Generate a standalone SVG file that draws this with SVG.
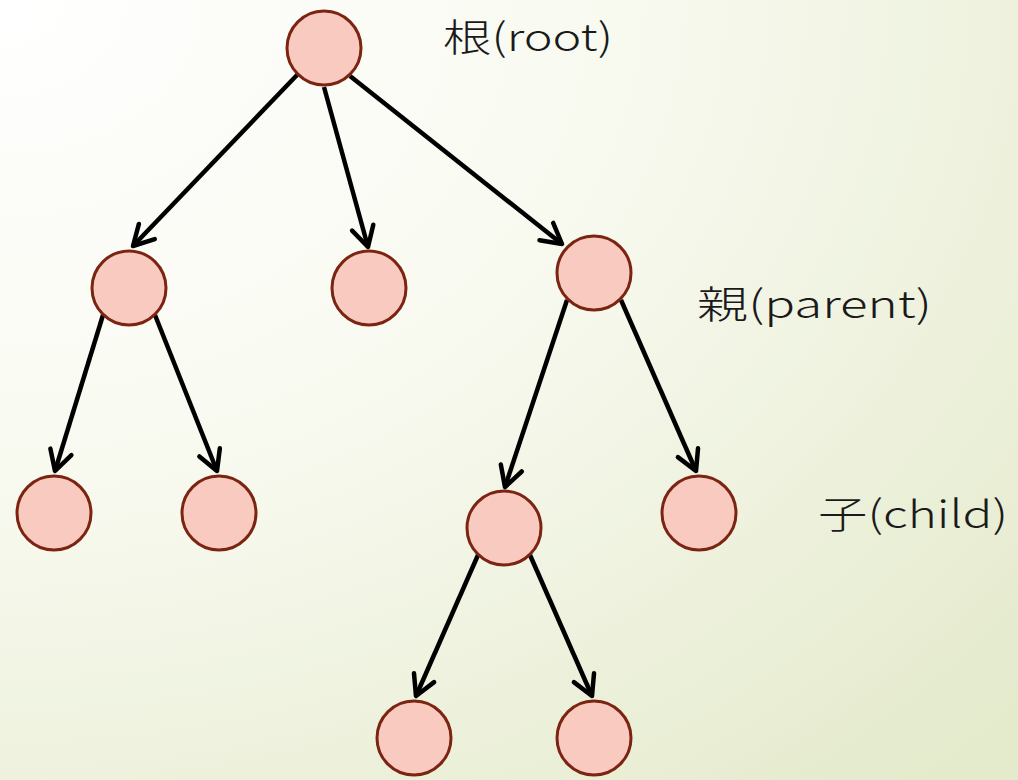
<svg xmlns="http://www.w3.org/2000/svg" width="1018" height="780" viewBox="0 0 1018 780">
<defs>
<radialGradient id="bg" cx="0" cy="0" r="1.35" gradientUnits="objectBoundingBox">
<stop offset="0" stop-color="#ffffff"/>
<stop offset="0.45" stop-color="#f8faf0"/>
<stop offset="1" stop-color="#e4eacc"/>
</radialGradient>
<marker id="ah" markerUnits="userSpaceOnUse" markerWidth="30" markerHeight="30" viewBox="-26 -15 30 30" refX="0" refY="0" orient="auto">
<polyline points="-20,-11 0,0 -20,11" fill="none" stroke="#000" stroke-width="4.5" stroke-linecap="round" stroke-linejoin="round"/>
</marker>
</defs>
<style>
.n{fill:#f9cbc0;stroke:#7b2412;stroke-width:3}
.e{stroke:#000;stroke-width:4.5;fill:none;marker-end:url(#ah)}
.t{font-family:"Noto Sans CJK JP","Noto Sans",sans-serif;font-size:38px;font-weight:300;fill:#1a1a1a}
</style>
<rect width="1018" height="780" fill="url(#bg)"/>
<g id="connectors">
<line class="e" x1="298" y1="74" x2="133" y2="246"/>
<line class="e" x1="324" y1="87" x2="368" y2="247"/>
<line class="e" x1="350" y1="76" x2="562" y2="244"/>
<line class="e" x1="103" y1="315" x2="55" y2="471"/>
<line class="e" x1="155" y1="315" x2="217" y2="471"/>
<line class="e" x1="567" y1="300" x2="505" y2="487"/>
<line class="e" x1="621" y1="300" x2="696" y2="471"/>
<line class="e" x1="478" y1="555" x2="416" y2="696"/>
<line class="e" x1="530" y1="555" x2="592" y2="696"/>
</g>
<g id="root"><circle class="n" cx="324" cy="48" r="37"/></g>
<g id="n1"><circle class="n" cx="129" cy="288" r="37"/></g>
<g id="n2"><circle class="n" cx="369" cy="288" r="37"/></g>
<g id="n3"><circle class="n" cx="594" cy="273" r="37"/></g>
<g id="n4"><circle class="n" cx="54" cy="513" r="37"/></g>
<g id="n5"><circle class="n" cx="219" cy="513" r="37"/></g>
<g id="n6"><circle class="n" cx="504" cy="528" r="37"/></g>
<g id="n7"><circle class="n" cx="699" cy="513" r="37"/></g>
<g id="n8"><circle class="n" cx="414" cy="738" r="37"/></g>
<g id="n9"><circle class="n" cx="594" cy="738" r="37"/></g>
<g id="labels">
<text class="t" x="443" y="51" textLength="170" lengthAdjust="spacingAndGlyphs">根(root)</text>
<text class="t" x="697" y="318" textLength="235" lengthAdjust="spacingAndGlyphs">親(parent)</text>
<text class="t" x="818" y="528" textLength="190" lengthAdjust="spacingAndGlyphs">子(child)</text>
</g>
</svg>
